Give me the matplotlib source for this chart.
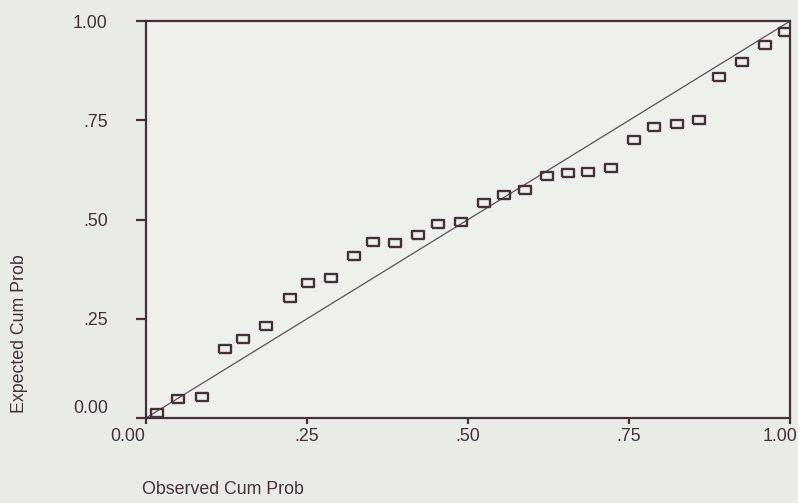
import matplotlib
matplotlib.use("Agg")
import matplotlib.pyplot as plt
import matplotlib.transforms as mtransforms

# observed vs expected cumulative probabilities
observed = [0.017, 0.049, 0.087, 0.122, 0.151, 0.187, 0.223, 0.252, 0.287, 0.323,
            0.353, 0.387, 0.423, 0.453, 0.489, 0.525, 0.556, 0.588, 0.623, 0.655,
            0.686, 0.722, 0.757, 0.789, 0.824, 0.858, 0.889, 0.926, 0.961, 0.992]
expected = [0.013, 0.049, 0.054, 0.174, 0.200, 0.233, 0.302, 0.340, 0.353, 0.409,
            0.443, 0.442, 0.460, 0.490, 0.494, 0.541, 0.562, 0.575, 0.609, 0.618,
            0.621, 0.629, 0.701, 0.733, 0.741, 0.752, 0.860, 0.898, 0.940, 0.972]
diag = [0, 1]
ticks = [0, 0.25, 0.5, 0.75, 1.0]
tick_labels = ["0.00", ".25", ".50", ".75", "1.00"]

ink = "#45303b"
paper = "#e9ece6"

plt.rcParams['font.family'] = ['Liberation Sans', 'DejaVu Sans']

fig = plt.figure(figsize=(7.98, 5.03), dpi=100, facecolor=paper)
ax = fig.add_axes([0.183, 0.169, 0.807, 0.789], facecolor="#eef1eb")

# reference line
ax.plot(diag, diag, color="#5a5058", linewidth=0.9, zorder=1)

# wide open rectangles like the SPSS markers
rect = [(-1.5, -1), (1.5, -1), (1.5, 1), (-1.5, 1), (-1.5, -1)]
ax.plot(observed, expected, linestyle="none", marker=rect, markersize=9.2,
        markerfacecolor="none", markeredgecolor=ink, markeredgewidth=1.7, zorder=2)

ax.set_xlim(0, 1)
ax.set_ylim(0, 1)
ax.set_xticks(ticks)
ax.set_xticklabels(tick_labels)
ax.set_yticks(ticks)
ax.set_yticklabels(tick_labels)

for s in ax.spines.values():
    s.set_color(ink)
    s.set_linewidth(1.6)

ax.tick_params(axis="x", direction="out", length=4.5, width=1.6, color=ink,
               labelsize=12.8, labelcolor=ink, pad=3)
ax.tick_params(axis="y", direction="out", length=7.5, width=1.6, color=ink,
               labelsize=12.8, labelcolor=ink, pad=20)

# nudge the end labels the way the scan has them
xl = ax.get_xticklabels()
xl[0].set_transform(xl[0].get_transform() + mtransforms.ScaledTranslation(-0.18, 0, fig.dpi_scale_trans))
xl[-1].set_transform(xl[-1].get_transform() + mtransforms.ScaledTranslation(-0.10, 0, fig.dpi_scale_trans))
yl = ax.get_yticklabels()
yl[0].set_transform(yl[0].get_transform() + mtransforms.ScaledTranslation(0, 0.11, fig.dpi_scale_trans))

fig.text(142 / 798, 1 - 489 / 503, "Observed Cum Prob", ha="left", va="center",
         fontsize=12.8, color=ink)
fig.text(20 / 798, 1 - 413 / 503, "Expected Cum Prob", ha="center", va="bottom",
         rotation=90, fontsize=12.8, color=ink)

fig.savefig("out.png", dpi=100, facecolor=paper)
